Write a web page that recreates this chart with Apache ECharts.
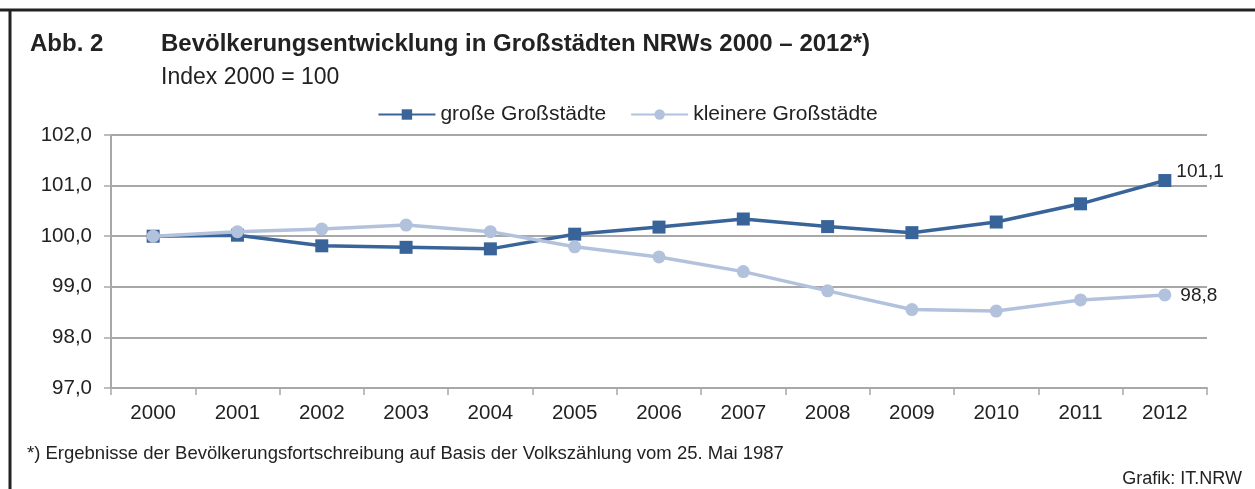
<!DOCTYPE html>
<html>
<head>
<meta charset="utf-8">
<script src="https://cdn.jsdelivr.net/npm/echarts@6/dist/echarts.min.js"></script>
<style>
  html, body { margin: 0; padding: 0; background: #fff; }
  #chart { width: 1255px; height: 489px; }
</style>
</head>
<body>
<div id="chart"></div>
<script>
// Index 2000 = 100
const years = ['2000','2001','2002','2003','2004','2005','2006','2007','2008','2009','2010','2011','2012'];
const grosse = [100.0, 100.02, 99.81, 99.78, 99.75, 100.04, 100.18, 100.34, 100.19, 100.07, 100.28, 100.64, 101.1];
const kleinere = [100.0, 100.09, 100.14, 100.22, 100.09, 99.79, 99.59, 99.30, 98.92, 98.55, 98.52, 98.74, 98.84];
const endLabels = ['101,1', '98,8'];

const DARK = '#386499';
const LIGHT = '#b3c2dc';
const GRID = '#a8a8a8';
const FONT = '"Liberation Sans", Arial, sans-serif';

const chart = echarts.init(document.getElementById('chart'));

function lastLabel(txt) {
  return function (p) {
    return p.dataIndex === years.length - 1 ? txt : '';
  };
}

const option = {
  backgroundColor: '#fff',
  animation: false,
  textStyle: { fontFamily: FONT },
  title: [
    { text: 'Abb. 2', left: 25, top: 27, textStyle: { fontSize: 24, fontWeight: 'bold', color: '#222', fontFamily: FONT } },
    { text: 'Bevölkerungsentwicklung in Großstädten NRWs 2000 – 2012*)', left: 156, top: 27, textStyle: { fontSize: 24, fontWeight: 'bold', color: '#222', fontFamily: FONT } },
    { text: 'Index 2000 = 100', left: 156, top: 61, textStyle: { fontSize: 23, fontWeight: 'normal', color: '#222', fontFamily: FONT } },
    { text: '*) Ergebnisse der Bevölkerungsfortschreibung auf Basis der Volkszählung vom 25. Mai 1987', left: 22, top: 439, textStyle: { fontSize: 18.5, fontWeight: 'normal', color: '#222', fontFamily: FONT } },
    { text: 'Grafik: IT.NRW', right: 8, top: 465, textStyle: { fontSize: 18, fontWeight: 'normal', color: '#222', fontFamily: FONT } }
  ],
  legend: {
    top: 99,
    left: 'center',
    itemWidth: 57,
    itemHeight: 13,
    itemGap: 24,
    textStyle: { fontSize: 21, color: '#222', fontFamily: FONT },
    data: ['große Großstädte', 'kleinere Großstädte']
  },
  grid: { left: 111, right: 48, top: 135, bottom: 101 },
  xAxis: {
    type: 'category',
    data: years,
    boundaryGap: true,
    axisLine: { lineStyle: { color: GRID, width: 2 } },
    axisTick: { show: true, length: 7, interval: 0, lineStyle: { color: GRID, width: 1.5 } },
    axisLabel: { fontSize: 20.5, color: '#222', margin: 15, interval: 0, fontFamily: FONT }
  },
  yAxis: {
    type: 'value',
    min: 97,
    max: 102,
    interval: 1,
    axisLine: { show: true, lineStyle: { color: GRID, width: 2 } },
    axisTick: { show: true, length: 7, lineStyle: { color: GRID, width: 1.5 } },
    splitLine: { lineStyle: { color: GRID, width: 2 } },
    axisLabel: {
      fontSize: 20.5, color: '#222', margin: 19, fontFamily: FONT,
      formatter: v => v.toFixed(1).replace('.', ',')
    }
  },
  series: [
    {
      name: 'große Großstädte',
      type: 'line',
      data: grosse,
      symbol: 'rect',
      symbolSize: 13,
      color: DARK,
      lineStyle: { width: 3.5, color: DARK },
      itemStyle: { color: DARK },
      label: { show: true, position: 'right', distance: 5, offset: [0, -9], fontSize: 19, color: '#222', formatter: lastLabel(endLabels[0]) },
      z: 3
    },
    {
      name: 'kleinere Großstädte',
      type: 'line',
      data: kleinere,
      symbol: 'circle',
      symbolSize: 13,
      color: LIGHT,
      lineStyle: { width: 3.5, color: LIGHT },
      itemStyle: { color: LIGHT },
      label: { show: true, position: 'right', distance: 9, offset: [0, 1], fontSize: 19, color: '#222', formatter: lastLabel(endLabels[1]) },
      z: 4
    }
  ],
  graphic: [
    { type: 'line', shape: { x1: 0, y1: 10, x2: 1255, y2: 10 }, style: { stroke: '#222', lineWidth: 3 } },
    { type: 'line', shape: { x1: 10, y1: 9, x2: 10, y2: 489 }, style: { stroke: '#222', lineWidth: 3 } }
  ]
};

chart.setOption(option);
</script>
</body>
</html>
